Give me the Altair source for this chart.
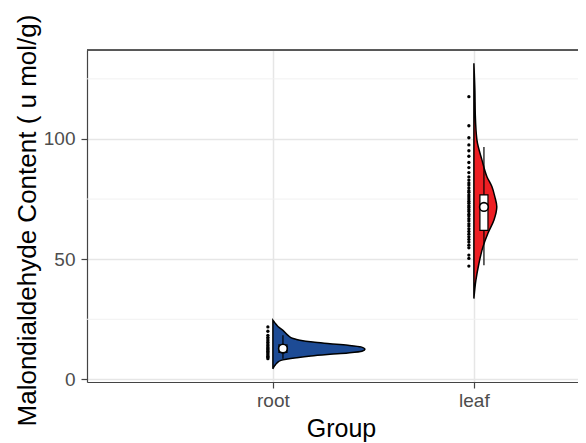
import altair as alt
import pandas as pd

# ---------------- data ----------------
groups = ["root", "leaf"]
group_colors = ["#1D4B95", "#EE1F24"]

root_points = [21.8, 20.0, 18.3, 17.5, 16.8, 16.1, 15.4, 14.7, 14.1, 13.5, 13.0,
               12.6, 12.2, 11.7, 11.2, 10.6, 10.1, 9.6, 9.2, 8.6]
leaf_points = [117.6, 105.5, 100.5, 97.5, 95.1, 92.8, 90.2, 88.1, 86.0, 84.2, 82.9,
               81.7, 80.8, 79.6, 78.5, 77.8, 76.7, 75.9, 75.0, 74.1, 73.3, 72.2,
               71.5, 70.6, 69.8, 68.7, 67.9, 66.8, 65.9, 64.7, 63.8, 62.6, 61.5,
               60.4, 59.3, 58.2, 57.1, 55.8, 54.7, 51.7, 50.3, 47.1]

# half-violin outline: value and half-width (in category units)
root_violin_y = [4.4, 5.8, 6.8, 7.9, 9.0, 9.7, 10.4, 11.0, 11.7, 12.5, 13.5, 14.2,
                 14.86, 15.5, 16.25, 17.0, 18.3, 20.4, 22.0, 23.5, 24.6]
root_violin_w = [0.0, 0.010, 0.020, 0.040, 0.119, 0.189, 0.284, 0.373, 0.443, 0.458,
                 0.438, 0.373, 0.284, 0.199, 0.134, 0.100, 0.075, 0.050, 0.025,
                 0.010, 0.0]
leaf_violin_y = [33.6, 41.25, 48.2, 55.1, 60.8, 66.3, 71.8, 76.0, 80.1, 84.3, 91.3,
                 99.6, 110.0, 120.0, 131.5]
leaf_violin_w = [0.0, 0.010, 0.025, 0.045, 0.070, 0.100, 0.114, 0.104, 0.090,
                 0.065, 0.040, 0.015, 0.007, 0.005, 0.0]

# box statistics
box_low = [8.6, 47.5]
box_q1 = [11.2, 62.0]
box_median = [12.7, 71.0]
box_q3 = [14.4, 76.7]
box_high = [18.3, 96.7]
box_mean = [12.8, 71.7]

y_ticks = [0, 50, 100]
y_minor = [25, 75, 125]

# ---------------- layout constants ----------------
W, H = 491, 332
POINT_OFF = -0.025
BOX_OFF = 0.05
BOX_HALF = 0.02

# ---------------- tables ----------------
pos = {g: i + 1 for i, g in enumerate(groups)}

viol_rows = []
for g, ys, ws in [("root", root_violin_y, root_violin_w), ("leaf", leaf_violin_y, leaf_violin_w)]:
    for y, w in zip(ys, ws):
        viol_rows.append({"group": g, "value": y, "x0": pos[g], "x1": pos[g] + w})
viol_df = pd.DataFrame(viol_rows)

pt_rows = []
for g, vals in [("root", root_points), ("leaf", leaf_points)]:
    for v in vals:
        pt_rows.append({"group": g, "value": v, "x": pos[g] + POINT_OFF})
pt_df = pd.DataFrame(pt_rows)

box_df = pd.DataFrame({
    "group": groups,
    "xc": [pos[g] + BOX_OFF for g in groups],
    "xa": [pos[g] + BOX_OFF - BOX_HALF for g in groups],
    "xb": [pos[g] + BOX_OFF + BOX_HALF for g in groups],
    "low": box_low, "q1": box_q1, "median": box_median, "q3": box_q3,
    "high": box_high, "mean": box_mean,
})

minor_df = pd.DataFrame({"value": y_minor})

# ---------------- scales / axes ----------------
x_scale = alt.Scale(domain=[0.075, 2.518], nice=False, zero=False)
y_scale = alt.Scale(domain=[-1.1, 137], nice=False, zero=False)
color_scale = alt.Scale(domain=groups, range=group_colors)

label_expr = " : ".join(
    [f"datum.value == {pos[g]} ? '{g}'" for g in groups[:-1]] + [f"'{groups[-1]}'"]
)

x_axis = alt.Axis(
    values=[pos[g] for g in groups], labelExpr=label_expr, title="Group",
    grid=True, gridColor="#E6E6E6", gridWidth=1.5,
    domainColor="#444444", domainWidth=1.2, tickColor="#444444", tickSize=6,
    tickWidth=1.2, labelFontSize=19, labelColor="#4D4D4D", labelPadding=3,
    labelFont="Liberation Sans", titleFont="Liberation Sans", titleFontSize=25,
    titleFontWeight="normal", titleColor="#000000", titleX=254, titleY=54,
    titleBaseline="alphabetic",
)
y_axis = alt.Axis(
    values=y_ticks, title="Malondialdehyde Content ( u mol/g)",
    grid=True, gridColor="#E6E6E6", gridWidth=1.5,
    domainColor="#444444", domainWidth=1.2, tickColor="#444444", tickSize=6,
    tickWidth=1.2, labelFontSize=19, labelColor="#4D4D4D", labelPadding=6,
    labelFont="Liberation Sans", titleFont="Liberation Sans", titleFontSize=26,
    titleFontWeight="normal", titleColor="#000000", titleX=-52, titleY=170,
    titleBaseline="alphabetic",
)

# ---------------- layers ----------------
minor = alt.Chart(minor_df).mark_rule(color="#F1F1F1", strokeWidth=1).encode(
    y=alt.Y("value:Q", scale=y_scale, axis=y_axis),
    x=alt.value(0), x2=alt.value(W),
)

violin = alt.Chart(viol_df).mark_area(
    orient="horizontal", stroke="#000000", strokeWidth=1.5, interpolate="monotone",
    opacity=1,
).encode(
    y=alt.Y("value:Q", scale=y_scale, axis=y_axis),
    x=alt.X("x1:Q", scale=x_scale, axis=x_axis),
    x2="x0:Q",
    fill=alt.Fill("group:N", scale=color_scale, legend=None),
    detail="group:N",
)

whisk = alt.Chart(box_df).mark_rule(color="#000000", strokeWidth=1.2).encode(
    x=alt.X("xc:Q", scale=x_scale, axis=x_axis),
    y=alt.Y("low:Q", scale=y_scale, axis=y_axis),
    y2="high:Q",
)

box = alt.Chart(box_df).mark_rect(fill="#FFFFFF", stroke="#000000", strokeWidth=1.2).encode(
    x=alt.X("xa:Q", scale=x_scale, axis=x_axis), x2="xb:Q",
    y=alt.Y("q1:Q", scale=y_scale, axis=y_axis), y2="q3:Q",
)

med = alt.Chart(box_df).mark_rule(color="#000000", strokeWidth=1.2).encode(
    x=alt.X("xa:Q", scale=x_scale, axis=x_axis), x2="xb:Q",
    y=alt.Y("median:Q", scale=y_scale, axis=y_axis),
)

mean = alt.Chart(box_df).mark_point(
    shape="circle", filled=True, fill="#FFFFFF", stroke="#000000", strokeWidth=1.6,
    size=75, opacity=1,
).encode(
    x=alt.X("xc:Q", scale=x_scale, axis=x_axis),
    y=alt.Y("mean:Q", scale=y_scale, axis=y_axis),
)

pts = alt.Chart(pt_df).mark_circle(color="#000000", size=11, opacity=1).encode(
    x=alt.X("x:Q", scale=x_scale, axis=x_axis),
    y=alt.Y("value:Q", scale=y_scale, axis=y_axis),
)

top_border = alt.Chart(minor_df).mark_rule(color="#444444", strokeWidth=1.2).encode(
    x=alt.value(0), x2=alt.value(W), y=alt.value(0),
)

chart = alt.layer(minor, violin, whisk, box, med, mean, pts, top_border).properties(
    width=W, height=H,
    autosize=alt.AutoSizeParams(type="none"),
    padding={"left": 79, "top": 42, "right": 0, "bottom": 61},
).configure_view(stroke=None).configure(background="#FFFFFF")

chart.save("out.html", embed_options={"renderer": "svg", "actions": False})
